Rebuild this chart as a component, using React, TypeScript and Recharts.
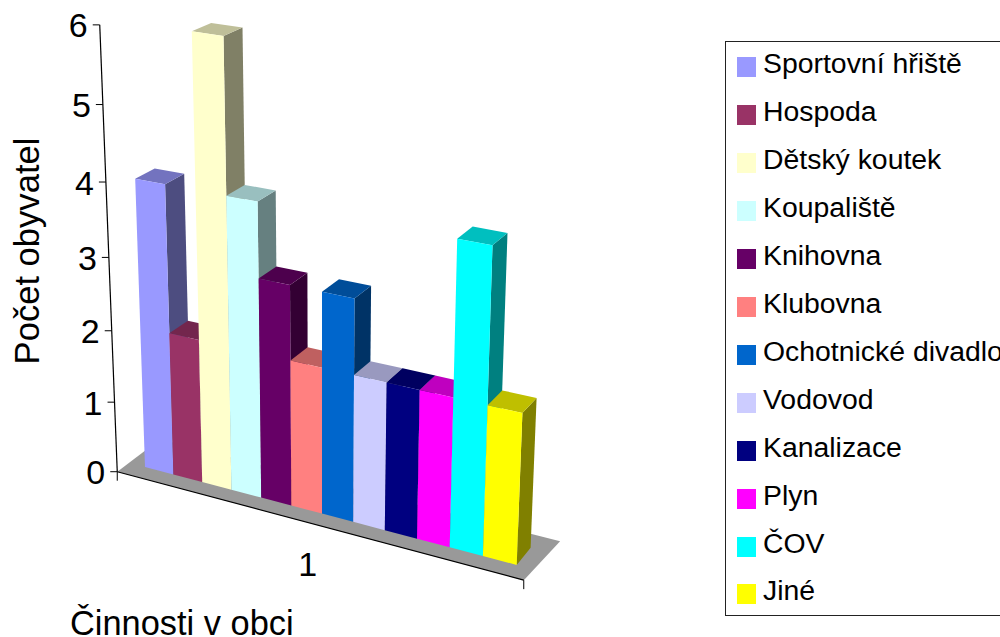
import { BarChart, Bar, XAxis, YAxis, Legend } from 'recharts'

const categories = ['1']
const names = [
  'Sportovní hřiště', 'Hospoda', 'Dětský koutek', 'Koupaliště', 'Knihovna', 'Klubovna',
  'Ochotnické divadlo', 'Vodovod', 'Kanalizace', 'Plyn', 'ČOV', 'Jiné',
]
const values = [4, 2, 6, 4, 3, 2, 3, 2, 2, 2, 4, 2]
const colors = [
  '#9999FF', '#993366', '#FFFFCC', '#CCFFFF', '#660066', '#FF8080',
  '#0066CC', '#CCCCFF', '#000080', '#FF00FF', '#00FFFF', '#FFFF00',
]
const yTicks = [0, 1, 2, 3, 4, 5, 6]

const data = categories.map(category => {
  const row: Record<string, string | number> = { category }
  values.forEach((v, i) => { row[`s${i}`] = v })
  return row
})

const WIDTH = 1000
const HEIGHT = 637
const PLOT_LEFT = 145
const PLOT_TOP = 26
const PLOT_W = 372
const PLOT_H = 446
const PLOT_BOTTOM = PLOT_TOP + PLOT_H
const UNIT = PLOT_H / 6
const FONT = '"Liberation Sans", Arial, sans-serif'

// floor extent, in bar widths (u) and bar depths (d)
const FLOOR_L = -0.57
const FLOOR_R = 12.46
const FLOOR_R_BACK = 12.6
const FLOOR_FRONT = -0.62
const FLOOR_BACK = 1.7

// perspective of the old Excel 3D chart: u = bar slots, v = value, d = depth
function project(u: number, v: number, d: number): [number, number] {
  const w = 1 - 0.00758 * u - 0.013 * v + 0.0156 * d
  const x = 145 + 27.06 * u - 4.2 * v + 20.88 * d
  const y = 467 + 3.88 * u - 74.4 * v - 7.1 * d
  return [x / w, y / w]
}

function pts(list: [number, number, number][]): string {
  return list.map(p => project(p[0], p[1], p[2]).map(n => n.toFixed(1)).join(',')).join(' ')
}

function shade(hex: string, f: number): string {
  const n = parseInt(hex.slice(1), 16)
  const c = [(n >> 16) & 255, (n >> 8) & 255, n & 255].map(k => Math.round(k * f))
  return `rgb(${c.join(',')})`
}

function Bar3D(props: any) {
  const { x, y, width, fill } = props
  const u0 = (x - PLOT_LEFT) / width
  const u1 = u0 + 1
  const v = (PLOT_BOTTOM - y) / UNIT
  return (
    <g>
      <polygon points={pts([[u1, 0, 0], [u1, 0, 1], [u1, v, 1], [u1, v, 0]])} fill={shade(fill, 0.5)} />
      <polygon points={pts([[u0, v, 0], [u1, v, 0], [u1, v, 1], [u0, v, 1]])} fill={shade(fill, 0.75)} />
      <polygon points={pts([[u0, 0, 0], [u1, 0, 0], [u1, v, 0], [u0, v, 0]])} fill={fill} />
    </g>
  )
}

function Floor() {
  const a = project(FLOOR_L, 0, FLOOR_FRONT)
  const b = project(FLOOR_R, 0, FLOOR_FRONT)
  const top = project(FLOOR_L, 6, FLOOR_FRONT)
  return (
    <g>
      <polygon
        points={pts([[FLOOR_L, 0, FLOOR_FRONT], [FLOOR_R, 0, FLOOR_FRONT], [FLOOR_R_BACK, 0, FLOOR_BACK], [FLOOR_L, 0, FLOOR_BACK]])}
        fill="#999999"
      />
      <line x1={a[0]} y1={a[1]} x2={b[0]} y2={b[1]} stroke="#000" strokeWidth={1.2} />
      <line x1={a[0]} y1={a[1]} x2={top[0]} y2={top[1]} stroke="#000" strokeWidth={1.2} />
      <line x1={a[0]} y1={a[1]} x2={a[0]} y2={a[1] + 9} stroke="#000" />
      <line x1={b[0]} y1={b[1]} x2={b[0]} y2={b[1] + 9} stroke="#000" />
    </g>
  )
}

function YTick(props: any) {
  const { payload } = props
  const [tx, ty] = project(FLOOR_L, payload.value, FLOOR_FRONT)
  return (
    <g>
      <line x1={tx - 7} y1={ty} x2={tx} y2={ty} stroke="#000" />
      <text x={tx - 12} y={ty + 12.5} textAnchor="end" fontSize={34} fontFamily={FONT} fill="#000">
        {payload.value}
      </text>
    </g>
  )
}

function XTick(props: any) {
  const { payload } = props
  const [tx, ty] = project(6, 0, FLOOR_FRONT)
  return (
    <text x={tx - 4} y={ty + 52} textAnchor="middle" fontSize={34} fontFamily={FONT} fill="#000">
      {payload.value}
    </text>
  )
}

function LegendBox({ payload }: any) {
  return (
    <div style={{ width: 320, height: 575, border: '1px solid #222', background: '#fff', boxSizing: 'border-box', position: 'relative', fontFamily: FONT, fontSize: 28.4, color: '#000' }}>
      {(payload ?? []).map((item: any, i: number) => (
        <div key={item.value} style={{ position: 'absolute', left: 0, top: 15 + i * 47.95, height: 20, whiteSpace: 'nowrap' }}>
          <span style={{ position: 'absolute', left: 11, top: 0, width: 19, height: 20, background: item.color }} />
          <span style={{ position: 'absolute', left: 37, top: -10, lineHeight: '32px' }}>{item.value}</span>
        </div>
      ))}
    </div>
  )
}

export default function App() {
  return (
    <div style={{ position: 'absolute', left: 0, top: 0, width: WIDTH, height: HEIGHT, overflow: 'hidden', background: '#fff' }}>
      <BarChart
        width={WIDTH}
        height={HEIGHT}
        data={data}
        barCategoryGap={0}
        barGap={0}
        margin={{ top: PLOT_TOP, right: WIDTH - PLOT_LEFT - PLOT_W, bottom: HEIGHT - PLOT_BOTTOM - 30, left: PLOT_LEFT - 60 }}
      >
        <Floor />
        <XAxis dataKey="category" height={30} axisLine={false} tickLine={false} tick={XTick} />
        <YAxis
          width={60}
          domain={[0, 6]}
          ticks={yTicks}
          axisLine={false}
          tickLine={false}
          tick={YTick}
          interval={0}
        />
        <Legend
          layout="vertical"
          align="center"
          verticalAlign="middle"
          content={LegendBox}
          itemSorter={null}
          wrapperStyle={{ left: 725, top: 41, width: 320, height: 575 }}
        />
        {names.map((name, i) => (
          <Bar key={name} dataKey={`s${i}`} name={name} fill={colors[i]} shape={Bar3D} isAnimationActive={false} />
        ))}
        <text x={0} y={0} transform="translate(38.5 251) rotate(-90)" textAnchor="middle" fontSize={34.6} fontFamily={FONT} fill="#000">
          Počet obyvatel
        </text>
        <text x={70} y={635} fontSize={34.4} fontFamily={FONT} fill="#000">
          Činnosti v obci
        </text>
      </BarChart>
    </div>
  )
}
